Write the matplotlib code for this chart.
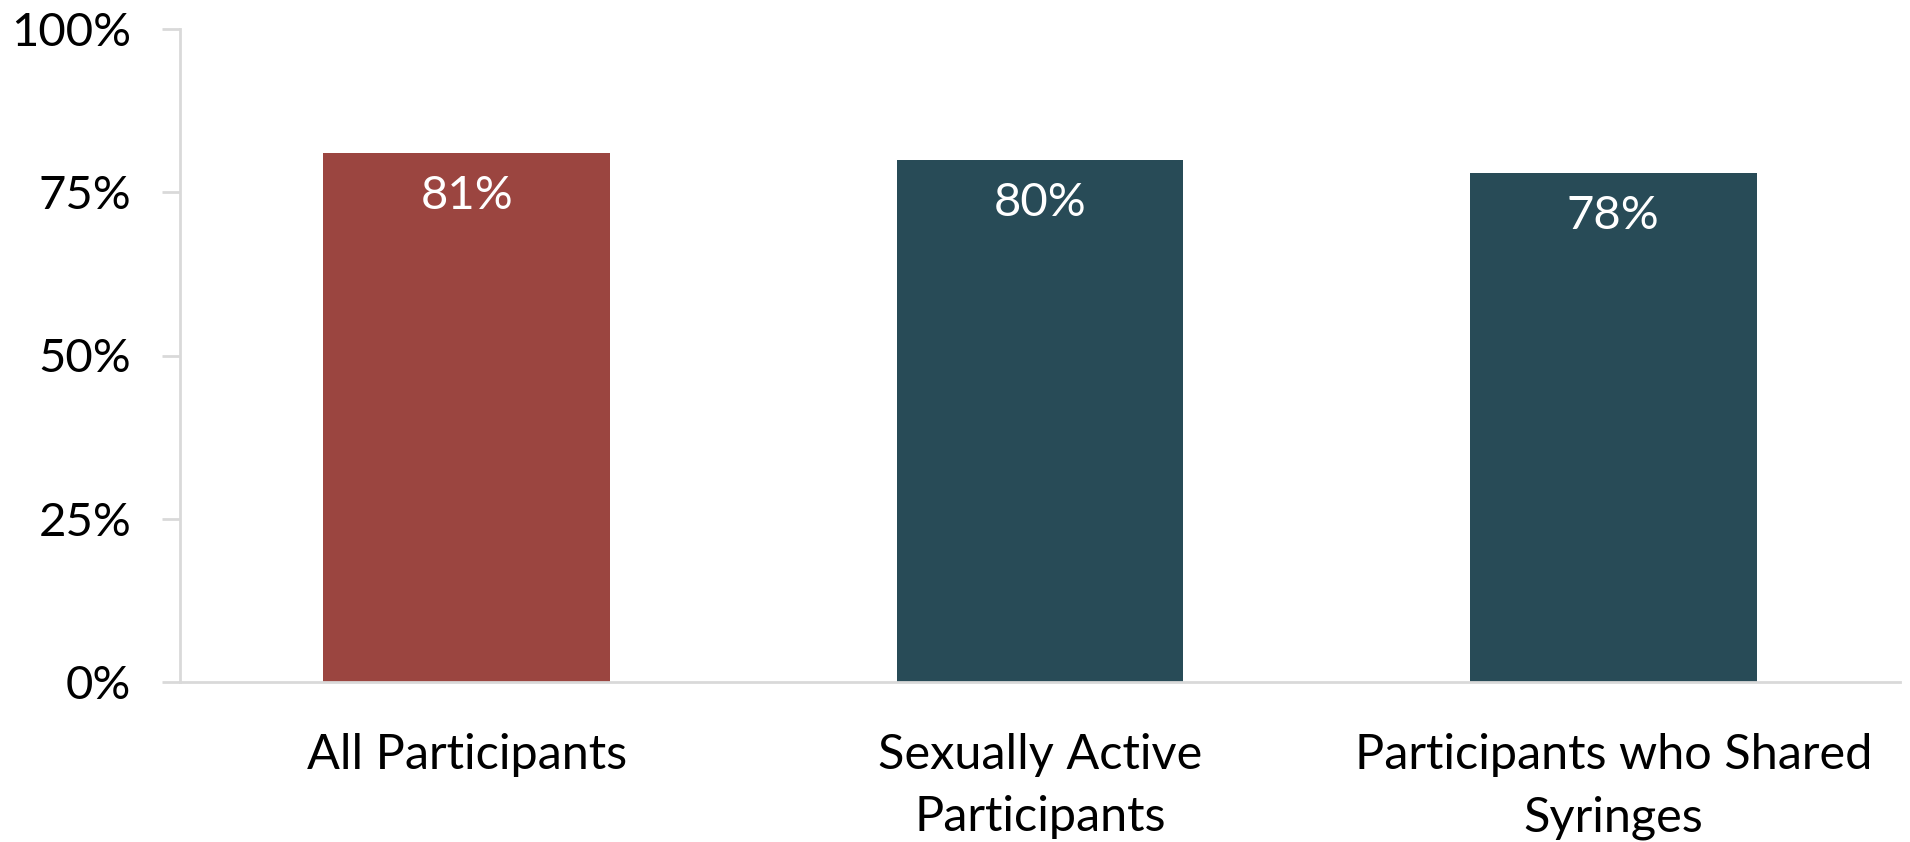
import matplotlib
matplotlib.use("Agg")
import matplotlib.pyplot as plt
from matplotlib.ticker import FixedLocator

categories = ["All Participants", "Sexually Active\nParticipants", "Participants who Shared\nSyringes"]
values = [81, 80, 78]
bar_colors = ["#9B4540", "#284B57", "#284B57"]
yticks = [0, 25, 50, 75, 100]
ytick_labels = ["0%", "25%", "50%", "75%", "100%"]

plt.rcParams['font.family'] = ['Lato', 'DejaVu Sans']
FS = 34

fig = plt.figure(figsize=(19.10, 8.42), dpi=100)
W, H = 1910, 842
ax = fig.add_axes([180 / W, (H - 682) / H, (1900 - 180) / W, (682 - 29) / H])

x = list(range(len(categories)))
bars = ax.bar(x, values, width=0.5, color=bar_colors, zorder=2)
for xi, v in zip(x, values):
    ax.annotate(f"{v}%", xy=(xi, v), xytext=(0, -16), textcoords="offset points",
                ha="center", va="top", color="white", fontsize=FS)

ax.set_xlim(-0.5, len(categories) - 0.5)
ax.set_ylim(0, 100)
ax.yaxis.set_major_locator(FixedLocator(yticks))
ax.set_yticklabels(ytick_labels)
ax.set_xticks(x)
ax.set_xticklabels(categories, fontsize=35, linespacing=1.5)

for s in ["top", "right"]:
    ax.spines[s].set_visible(False)
for s in ["left", "bottom"]:
    ax.spines[s].set_color("#D9D9D9")
    ax.spines[s].set_linewidth(2)
ax.tick_params(axis="y", length=13, width=2, color="#D9D9D9", labelsize=FS, pad=22)
ax.tick_params(axis="x", length=0, pad=37)

fig.savefig("out.png", dpi=100)
